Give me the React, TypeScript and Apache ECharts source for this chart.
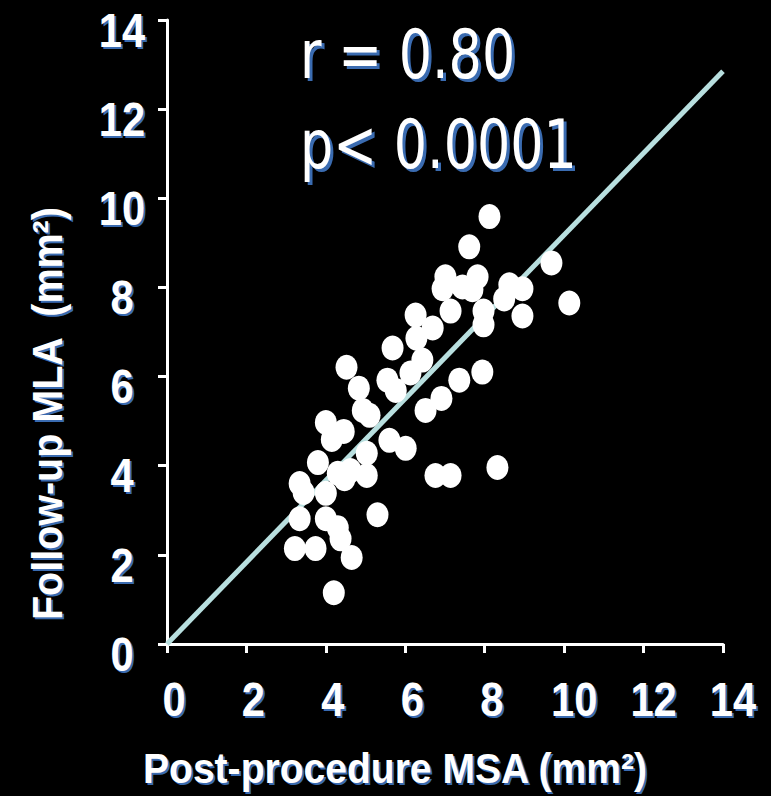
import React, { useEffect, useRef } from "react";
import * as echarts from "echarts";

const xTicks = [0, 2, 4, 6, 8, 10, 12, 14];
const yTicks = [0, 2, 4, 6, 8, 10, 12, 14];
const postMSA = [
  8.12, 7.61, 9.68, 7.01, 7.82, 6.94, 7.44, 7.69, 8.62, 8.95, 8.49, 10.13, 7.14, 7.97, 8.95, 6.26,
  7.97, 6.69, 6.28, 5.68, 4.52, 6.43, 6.13, 5.55, 7.94, 7.36, 4.83, 5.76, 6.91, 6.51, 4.93, 5.1,
  4.0, 4.45, 4.15, 5.6, 6.01, 5.03, 3.8, 4.62, 5.03, 4.47, 3.34, 6.76, 7.14, 8.32, 4.0, 3.44,
  3.34, 4.0, 4.3, 4.37, 5.3, 3.22, 3.74, 4.65, 4.2, 4.3,
];
const followUpMLA = [
  9.59, 8.91, 8.55, 8.24, 8.24, 7.97, 8.01, 7.95, 8.06, 7.97, 7.74, 7.65, 7.47, 7.47, 7.36, 7.38,
  7.16, 7.09, 6.86, 6.64, 6.21, 6.37, 6.08, 5.92, 6.1, 5.92, 5.74, 5.69, 5.51, 5.24, 5.24, 5.13,
  4.97, 4.77, 4.59, 4.57, 4.39, 4.28, 4.07, 3.89, 3.78, 3.71, 3.6, 3.78, 3.78, 3.96, 3.38, 3.4,
  2.81, 2.81, 2.61, 2.36, 2.9, 2.14, 2.14, 1.94, 1.15, 3.83,
];
const fitLineX = [0, 14];
const fitLineY = [0, 12.85];
const statLines = ["r = 0.80", "p< 0.0001"];
const xName = "Post-procedure MSA (mm²)";
const yName = "Follow-up MLA  (mm²)";

const AXIS_FONT = '"Liberation Sans", Arial, sans-serif';
const STAT_FONT = '"DejaVu Sans", Verdana, sans-serif';
const SHADOW = "#3a6bb0";

function shadowText(
  text: string,
  x: number,
  y: number,
  font: string,
  align: string,
  scaleX: number,
  off = 2
): any {
  const base = { font, align, verticalAlign: "middle", text };
  return {
    type: "group",
    x,
    y,
    scaleX,
    z: 10,
    children: [
      { type: "text", x: off / scaleX, y: off, style: { ...base, fill: SHADOW } },
      { type: "text", x: 0, y: 0, style: { ...base, fill: "#ffffff" } },
    ],
  };
}

export default function App() {
  const ref = useRef<HTMLDivElement>(null);
  useEffect(() => {
    if (!ref.current) return;
    const chart = echarts.init(ref.current, null, { renderer: "svg" });
    const axisCommon = {
      type: "value" as const,
      min: 0,
      max: 14,
      interval: 2,
      splitLine: { show: false },
      axisLabel: { show: false },
      axisLine: { show: true, onZero: false, lineStyle: { color: "#ffffff", width: 3 } },
      axisTick: { show: true, inside: false, length: 9, lineStyle: { color: "#ffffff", width: 3 } },
    };
    chart.setOption({
      animation: false,
      backgroundColor: "#000000",
      grid: { left: 167, right: 48, top: 20, bottom: 152, containLabel: false },
      xAxis: { ...axisCommon },
      yAxis: { ...axisCommon },
      series: [
        {
          type: "line",
          data: fitLineX.map((x, i) => [x, fitLineY[i]]),
          symbol: "none",
          z: 1,
          lineStyle: { color: "#b8dfdf", width: 5 },
          silent: true,
        },
        {
          type: "scatter",
          z: 3,
          data: postMSA.map((x, i) => [x, followUpMLA[i]]),
          symbol: "circle",
          symbolSize: [22, 25],
          itemStyle: { color: "#ffffff", opacity: 1 },
        },
      ],
    });

    const labelFont = `bold 49px ${AXIS_FONT}`;
    const graphics: any[] = [];
    xTicks.forEach((v) => {
      const px = chart.convertToPixel({ xAxisIndex: 0 }, v) as number;
      const s = String(v);
      graphics.push(shadowText(s, px + 4 + 3 * s.length, 699, labelFont, "center", 0.85));
    });
    yTicks.forEach((v) => {
      const py = chart.convertToPixel({ yAxisIndex: 0 }, v) as number;
      graphics.push(shadowText(String(v), 122, py + 10, labelFont, "center", 0.85));
    });
    // statistics annotation
    graphics.push(shadowText(statLines[0], 300, 54, `normal 68px ${STAT_FONT}`, "left", 0.77, 3));
    graphics.push(shadowText(statLines[1], 300, 144, `normal 68px ${STAT_FONT}`, "left", 0.77, 3));
    // axis names
    const nameFont = `bold 42px ${AXIS_FONT}`;
    graphics.push(shadowText(xName, 143, 769, nameFont, "left", 0.93));
    graphics.push({
      type: "group",
      x: 47.5,
      y: 620,
      rotation: Math.PI / 2,
      scaleX: 0.94,
      z: 10,
      children: [
        {
          type: "text",
          x: -2 / 0.94,
          y: 2,
          style: { text: yName, font: nameFont, align: "left", verticalAlign: "middle", fill: SHADOW },
        },
        {
          type: "text",
          x: 0,
          y: 0,
          style: { text: yName, font: nameFont, align: "left", verticalAlign: "middle", fill: "#ffffff" },
        },
      ],
    });
    chart.setOption({ graphic: graphics });
    return () => chart.dispose();
  }, []);
  return (
    <div
      ref={ref}
      style={{ position: "fixed", left: 0, top: 0, width: 771, height: 796, background: "#000" }}
    />
  );
}
